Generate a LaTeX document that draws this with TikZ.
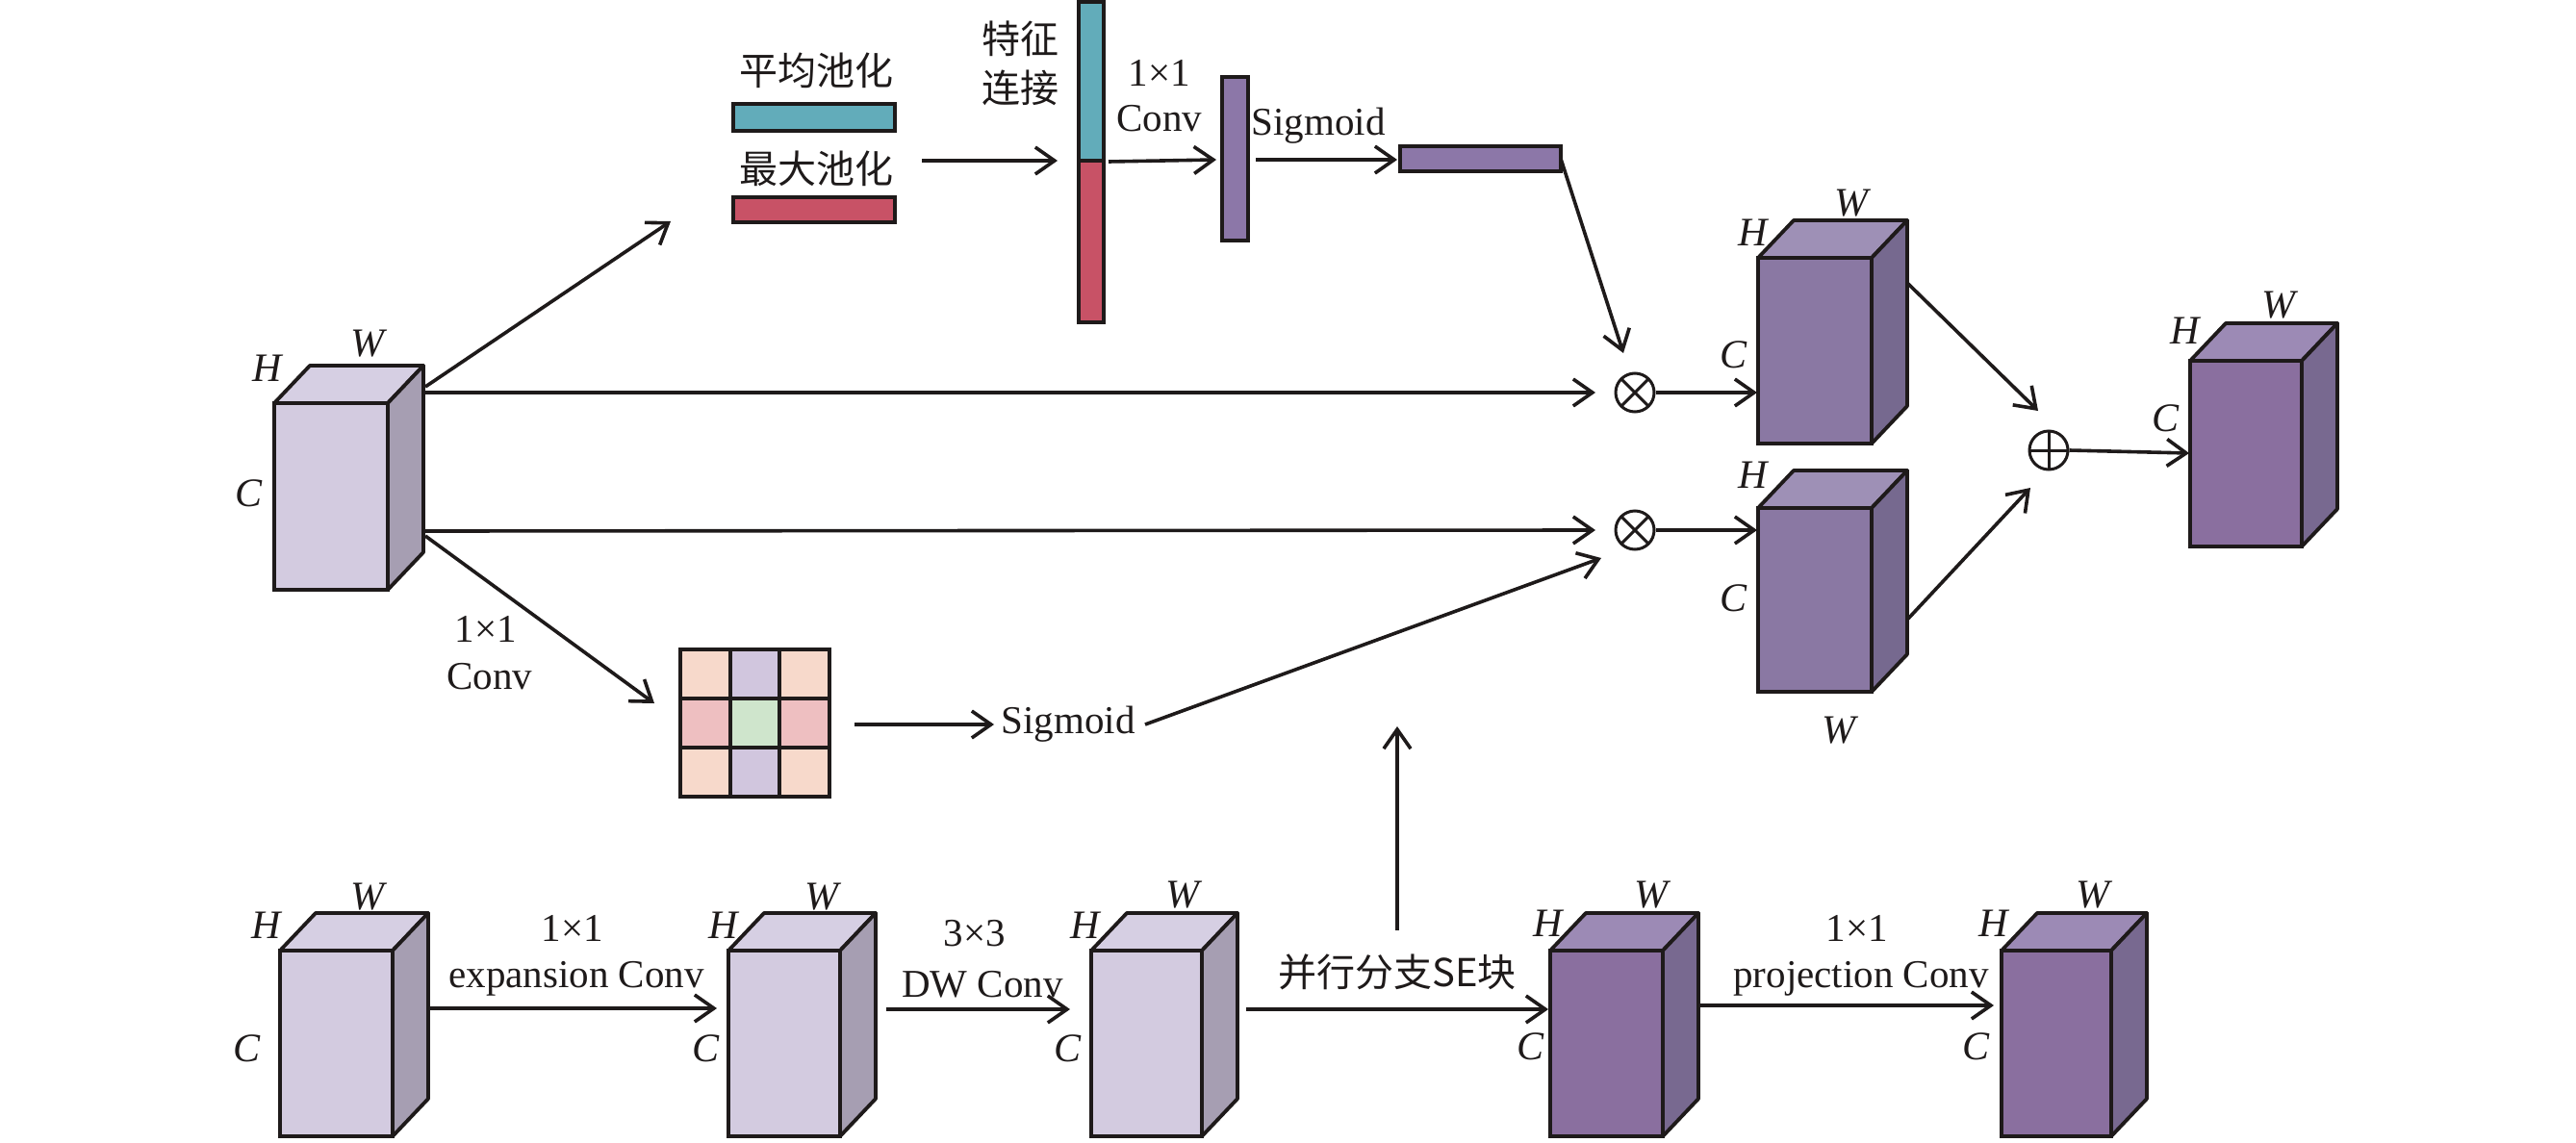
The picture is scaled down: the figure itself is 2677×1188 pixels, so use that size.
\documentclass[tikz,border=0pt]{standalone}
\usepackage{fontspec}
\setmainfont{Liberation Serif}
\newfontfamily\cjk{Noto Sans CJK SC}
\usetikzlibrary{arrows.meta}
\definecolor{lfront}{HTML}{D3CBE0}
\definecolor{ltop}{HTML}{D6CFE3}
\definecolor{lside}{HTML}{A69EB2}
\definecolor{mfront}{HTML}{8A78A3}
\definecolor{mtop}{HTML}{9E90B6}
\definecolor{mside}{HTML}{76698F}
\definecolor{dfront}{HTML}{8A6F9F}
\definecolor{dtop}{HTML}{9C8AB5}
\definecolor{dside}{HTML}{786990}
\definecolor{tealbar}{HTML}{62ACBA}
\definecolor{redbar}{HTML}{C85266}
\definecolor{purbar}{HTML}{8C77A8}
\definecolor{gpeach}{HTML}{F7D9CB}
\definecolor{glav}{HTML}{D1C6DE}
\definecolor{gpink}{HTML}{EEBFC1}
\definecolor{ggreen}{HTML}{CFE5CC}
\definecolor{ink}{HTML}{1E1A1A}
\newcommand\mycube[8]{%
  \node[cubeface, fill=#6, minimum width=#4pt, minimum height=#5pt, anchor=north west] (#1) at (#2,#3) {};
  \filldraw[cubeline, fill=#7] (#1.north west) -- ++(37,-39) -- ++(#4,0) -- (#1.north east) -- cycle;
  \filldraw[cubeline, fill=#8] (#1.north east) -- ++(37,-39) -- ++(0,#5) -- (#1.south east) -- cycle;
}
\begin{document}
\begin{tikzpicture}[x=1pt,y=-1pt,
  arr/.style={draw=ink, line width=3.6pt,-{Straight Barb[length=20pt,width=28pt]}},
  cubeface/.style={draw=ink, line width=3.8pt, inner sep=0pt, outer sep=0pt},
  cubeline/.style={draw=ink, line width=3.8pt, line join=round},
  bar/.style={draw=ink, line width=3.4pt, inner sep=0pt, outer sep=0pt},
  lbl/.style={font=\fontsize{41}{48}\selectfont, inner sep=0pt, text=ink},
  zh/.style={font=\fontsize{40}{48}\selectfont\cjk, inner sep=0pt, text=ink},
  dimv/.style={font=\fontsize{42}{48}\selectfont\itshape, inner sep=0pt, text=ink},
  otimes/.style={circle, draw=ink, line width=3pt, minimum size=40pt, inner sep=0pt,
    path picture={\draw[ink, line width=3pt] (path picture bounding box.north west)--(path picture bounding box.south east) (path picture bounding box.north east)--(path picture bounding box.south west);}},
  oplus/.style={circle, draw=ink, line width=3pt, minimum size=40pt, inner sep=0pt,
    path picture={\draw[ink, line width=3pt] (path picture bounding box.north)--(path picture bounding box.south) (path picture bounding box.east)--(path picture bounding box.west);}}
]
\useasboundingbox (0,0) rectangle (2677,1188);
\fill[white] (0,0) rectangle (2677,1188);

% ---------- top channel attention ----------
\node[zh] (tavg) at (848,73) {平均池化};
\node[bar, fill=tealbar, minimum width=168pt, minimum height=28pt] (avg) at (846,122) {};
\node[zh] (tmax) at (848,175) {最大池化};
\node[bar, fill=redbar, minimum width=168pt, minimum height=26pt] (max) at (846,218) {};
\node[bar, fill=tealbar, minimum width=26pt, minimum height=165pt] (cata) at (1134,84.5) {};
\node[bar, fill=redbar, minimum width=26pt, minimum height=168pt] (catb) at (1134,251) {};
\node[zh] (tcat1) at (1060,40) {特征};
\node[zh] (tcat2) at (1060,91) {连接};
\coordinate (poolout) at (958,167);
\coordinate (catin) at (1099,167);
\draw[arr] (poolout) -- (catin);
\node[lbl] (t11a) at (1205,76) {1×1};
\node[lbl] (tconva) at (1205,123) {Conv};
\node[bar, fill=purbar, minimum width=27pt, minimum height=170pt] (convbar) at (1283.5,165) {};
\coordinate (catout) at (1152,168);
\coordinate (convin) at (1264,166);
\draw[arr] (catout) -- (convin);
\node[lbl] (tsig1) at (1370,131) {Sigmoid};
\node[bar, fill=purbar, minimum width=167pt, minimum height=26pt] (sigbar) at (1538.5,165) {};
\coordinate (convout) at (1305,166);
\coordinate (sigin) at (1452,166);
\draw[arr] (convout) -- (sigin);
\coordinate (ot1in) at (1687,367);
\draw[arr] (sigbar.east) -- (ot1in);

% ---------- left input cube ----------
\mycube{L}{285}{419}{118}{194}{lfront}{ltop}{lside}
\node[dimv] at (278,383) {H};
\node[dimv] at (382,357) {W};
\node[dimv] at (259,513) {C};
\coordinate (Lr1) at (442,402);
\coordinate (Lr2) at (442,408);
\coordinate (Lr3) at (442,552);
\coordinate (Lr4) at (442,557);
\coordinate (poolin) at (697,230);
\coordinate (gridin) at (680,731);
\draw[arr] (Lr1) -- (poolin);
\draw[arr] (Lr4) -- (gridin);
\node[lbl] (t11b) at (505,654) {1×1};
\node[lbl] (tconvb) at (509,703) {Conv};

% ---------- multiply nodes ----------
\node[otimes] (ot1) at (1699,408) {};
\node[otimes] (ot2) at (1699,551) {};
\coordinate (ot1l) at (1658,408);
\coordinate (ot2l) at (1658,551);
\draw[arr] (Lr2) -- (ot1l);
\draw[arr] (Lr3) -- (ot2l);

% ---------- spatial attention grid ----------
\fill[gpeach] (707,675) rectangle (759,726);
\fill[glav] (759,675) rectangle (810,726);
\fill[gpeach] (810,675) rectangle (862,726);
\fill[gpink] (707,726) rectangle (759,777);
\fill[ggreen] (759,726) rectangle (810,777);
\fill[gpink] (810,726) rectangle (862,777);
\fill[gpeach] (707,777) rectangle (759,828);
\fill[glav] (759,777) rectangle (810,828);
\fill[gpeach] (810,777) rectangle (862,828);
\draw[ink, line width=3.6pt] (707,675) rectangle (862,828);
\draw[ink, line width=3.6pt] (759,675) -- (759,828) (810,675) -- (810,828) (707,726) -- (862,726) (707,777) -- (862,777);
\node (grid) at (784.5,751.5) [minimum width=155pt, minimum height=153pt, inner sep=0pt] {};
\node[lbl] (tsig2) at (1110,753) {Sigmoid};
\coordinate (gridout) at (888,753);
\coordinate (sig2in) at (1033,753);
\draw[arr] (gridout) -- (sig2in);
\coordinate (sig2out) at (1190,753);
\coordinate (ot2in) at (1664,580);
\draw[arr] (sig2out) -- (ot2in);

% ---------- middle cubes ----------
\mycube{M1}{1827}{268}{118}{193}{mfront}{mtop}{mside}
\node[dimv] at (1822,242) {H};
\node[dimv] at (1924,211) {W};
\node[dimv] at (1801,369) {C};
\mycube{M2}{1827}{528}{118}{191}{mfront}{mtop}{mside}
\node[dimv] at (1822,494) {H};
\node[dimv] at (1801,622) {C};
\node[dimv] at (1911,759) {W};
\coordinate (M1in) at (1826,408);
\coordinate (M2in) at (1826,551);
\draw[arr] (ot1.east) -- (M1in);
\draw[arr] (ot2.east) -- (M2in);

% ---------- add & output ----------
\node[oplus] (op) at (2129,468) {};
\coordinate (M1out) at (1983,295);
\coordinate (M2out) at (1983,643);
\coordinate (opin1) at (2118,427);
\coordinate (opin2) at (2110,507);
\draw[arr] (M1out) -- (opin1);
\draw[arr] (M2out) -- (opin2);
\mycube{R}{2276}{375}{116}{193}{dfront}{dtop}{dside}
\node[dimv] at (2271,344) {H};
\node[dimv] at (2368,317) {W};
\node[dimv] at (2250,435) {C};
\coordinate (Rin) at (2275,471);
\draw[arr] (op.east) -- (Rin);

% ---------- bottom row ----------
\mycube{B1}{291}{988}{117}{193}{lfront}{ltop}{lside}
\node[dimv] at (277,962) {H};
\node[dimv] at (382,932) {W};
\node[dimv] at (257,1090) {C};
\mycube{B2}{757}{988}{116}{193}{lfront}{ltop}{lside}
\node[dimv] at (752,962) {H};
\node[dimv] at (854,932) {W};
\node[dimv] at (733,1090) {C};
\mycube{B3}{1134}{988}{115}{193}{lfront}{ltop}{lside}
\node[dimv] at (1128,962) {H};
\node[dimv] at (1229,930) {W};
\node[dimv] at (1109,1090) {C};
\mycube{B4}{1611}{988}{117}{193}{dfront}{dtop}{dside}
\node[dimv] at (1609,960) {H};
\node[dimv] at (1716,930) {W};
\node[dimv] at (1590,1088) {C};
\mycube{B5}{2080}{988}{114}{193}{dfront}{dtop}{dside}
\node[dimv] at (2072,960) {H};
\node[dimv] at (2175,930) {W};
\node[dimv] at (2053,1088) {C};

\coordinate (B1o) at (445,1048);
\coordinate (B2i) at (745,1048);
\draw[arr] (B1o) -- (B2i);
\node[lbl] at (595,965) {1×1};
\node[lbl] at (599,1017) {expansion Conv};

\coordinate (B2o) at (921,1049);
\coordinate (B3i) at (1112,1049);
\draw[arr] (B2o) -- (B3i);
\node[lbl] at (1013,970) {3×3};
\node[lbl] at (1021,1023) {DW Conv};

\coordinate (B3o) at (1295,1049);
\coordinate (B4i) at (1609,1049);
\draw[arr] (B3o) -- (B4i);
\node[zh] at (1452,1010) {并行分支SE块};
\coordinate (seup) at (1452,967);
\coordinate (setop) at (1452,755);
\draw[arr] (seup) -- (setop);

\coordinate (B4o) at (1766,1045);
\coordinate (B5i) at (2072,1045);
\draw[arr] (B4o) -- (B5i);
\node[lbl] at (1930,965) {1×1};
\node[lbl] at (1934,1017) {projection Conv};
\end{tikzpicture}
\end{document}
